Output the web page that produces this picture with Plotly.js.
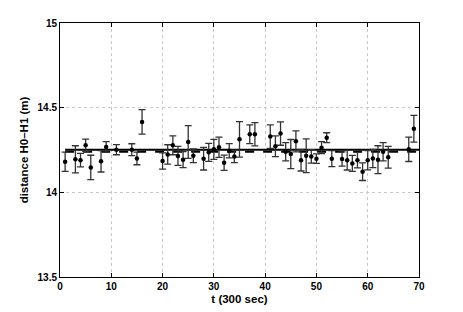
<!DOCTYPE html>
<html><head><meta charset="utf-8">
<script src="https://cdn.plot.ly/plotly-3.0.1.min.js"></script>
<style>html,body{margin:0;padding:0;background:#fff;}#plot{width:463px;height:312px;}</style>
</head><body><div id="plot"></div>
<script>
const t = [1,3,4,5,6,8,9,11,14,15,16,20,21,22,23,24,25,26,28,29,30,31,32,33,34,35,37,38,41,42,43,44,45,46,47,48,49,50,51,52,53,55,56,57,58,59,60,61,62,63,64,68,69];
const dist = [14.181,14.195,14.19,14.278,14.147,14.183,14.268,14.252,14.252,14.2,14.416,14.185,14.224,14.278,14.215,14.193,14.297,14.216,14.199,14.236,14.254,14.266,14.175,14.246,14.212,14.313,14.343,14.343,14.329,14.272,14.347,14.24,14.226,14.301,14.19,14.216,14.212,14.199,14.264,14.323,14.199,14.197,14.19,14.171,14.19,14.122,14.19,14.2,14.193,14.24,14.207,14.254,14.376];
const err = [0.057,0.08,0.04,0.036,0.072,0.063,0.031,0.03,0.035,0.037,0.072,0.048,0.057,0.056,0.056,0.047,0.097,0.04,0.067,0.053,0.059,0.06,0.045,0.042,0.037,0.105,0.055,0.069,0.069,0.061,0.069,0.054,0.086,0.062,0.064,0.1,0.04,0.028,0.035,0.029,0.047,0.042,0.058,0.047,0.046,0.052,0.057,0.054,0.082,0.054,0.064,0.072,0.079];
const lineX = [1,70];
const solidY = [14.252,14.252];
const dashY = [14.24,14.24];
const xTicks = [0,10,20,30,40,50,60,70];
const yTicks = [13.5,14,14.5,15];
const yTickText = ['13.5','14','14.5','15'];

const traces = [
  {x: lineX, y: solidY, mode:'lines', line:{color:'#000', width:2}, hoverinfo:'skip'},
  {x: lineX, y: dashY, mode:'lines', line:{color:'#000', width:2, dash:'dash'}, hoverinfo:'skip'},
  {x: t, y: dist, mode:'markers', marker:{color:'#000', size:4.5},
   error_y:{type:'data', array: err, visible:true, color:'#333', thickness:1.3, width:3.5}}
];
const font = {family:'Liberation Sans, Arial, sans-serif', color:'#000', size:10};
const layout = {
  width:463, height:312,
  margin:{l:60, r:44, t:23, b:35},
  paper_bgcolor:'#fff', plot_bgcolor:'#fff',
  showlegend:false,
  font: font,
  xaxis:{range:[0,70], tickvals:xTicks, ticktext:xTicks.map(v=>'<b>'+v+'</b>'), showgrid:true, gridcolor:'#c8c8c8', griddash:'dot', gridwidth:1,
         showline:true, linecolor:'#000', linewidth:1, mirror:'ticks', ticks:'inside', ticklen:4, tickcolor:'#000',
         zeroline:false, tickfont:font,
         title:{text:'<b>t (300 sec)</b>', font:{family:'Liberation Sans, Arial, sans-serif', size:11.5, color:'#000'}, standoff:3}},
  yaxis:{range:[13.5,15], tickvals:yTicks, ticktext:yTickText.map(v=>'<b>'+v+'</b>'), showgrid:true, gridcolor:'#c8c8c8', griddash:'dot', gridwidth:1,
         showline:true, linecolor:'#000', linewidth:1, mirror:'ticks', ticks:'inside', ticklen:4, tickcolor:'#000',
         zeroline:false, tickfont:font,
         title:{text:'<b>distance H0\u2013H1 (m)</b>', font:{family:'Liberation Sans, Arial, sans-serif', size:11.5, color:'#000'}, standoff:6}}
};
Plotly.newPlot('plot', traces, layout, {staticPlot:true, displayModeBar:false});
</script></body></html>
